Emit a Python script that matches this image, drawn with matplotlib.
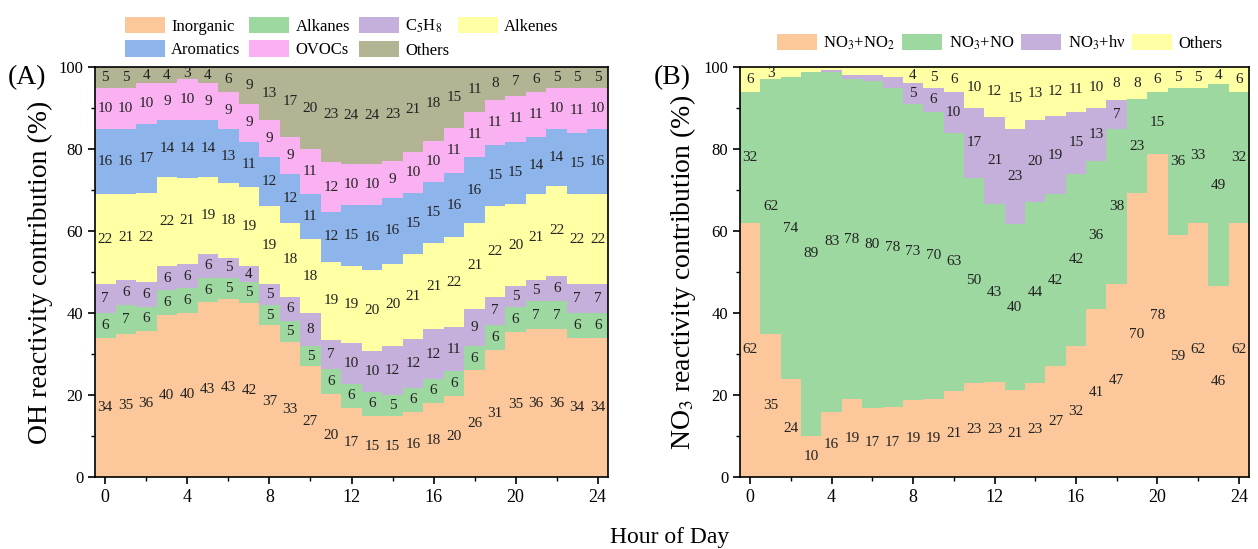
import numpy as np
import matplotlib
matplotlib.use("Agg")
import matplotlib.pyplot as plt
from matplotlib.ticker import MultipleLocator

plt.rcParams['font.family'] = ['Liberation Serif', 'DejaVu Serif']
plt.rcParams['mathtext.fontset'] = 'stix'

hours = list(range(25))

# ---- Panel A: OH reactivity contribution (%) ----
a_labels = ["Inorganic", "Alkanes", "C$_5$H$_8$", "Alkenes", "Aromatics", "OVOCs", "Others"]
inorganic = [34, 35, 36, 40, 40, 43, 43, 42, 37, 33, 27, 20, 17, 15, 15, 16, 18, 20, 26, 31, 35, 36, 36, 34, 34]
alkanes   = [6, 7, 6, 6, 6, 6, 5, 5, 5, 5, 5, 6, 6, 6, 5, 6, 6, 6, 6, 6, 6, 7, 7, 6, 6]
c5h8      = [7, 6, 6, 6, 6, 6, 5, 4, 5, 6, 8, 7, 10, 10, 12, 12, 12, 11, 9, 7, 5, 5, 6, 7, 7]
alkenes   = [22, 21, 22, 22, 21, 19, 18, 19, 19, 18, 18, 19, 19, 20, 20, 21, 21, 22, 21, 22, 20, 21, 22, 22, 22]
aromatics = [16, 16, 17, 14, 14, 14, 13, 11, 12, 12, 11, 12, 15, 16, 16, 15, 15, 16, 16, 15, 15, 14, 14, 15, 16]
ovocs     = [10, 10, 10, 9, 10, 9, 9, 9, 9, 9, 11, 12, 10, 10, 9, 10, 10, 11, 11, 11, 11, 11, 10, 11, 10]
others_a  = [5, 5, 4, 4, 3, 4, 6, 9, 13, 17, 20, 23, 24, 24, 23, 21, 18, 15, 11, 8, 7, 6, 5, 5, 5]
a_colors = ["#FCC89B", "#9DD8A0", "#C4B0DA", "#FFFFA3", "#8DB5EC", "#FAB1F2", "#B3B494"]

# ---- Panel B: NO3 reactivity contribution (%) ----
b_labels = ["NO$_3$+NO$_2$", "NO$_3$+NO", "NO$_3$+h\u03bd", "Others"]
no3_no2  = [62, 35, 24, 10, 16, 19, 17, 17, 19, 19, 21, 23, 23, 21, 23, 27, 32, 41, 47, 70, 78, 59, 62, 46, 62]
no3_no   = [32, 62, 74, 89, 83, 78, 80, 78, 73, 70, 63, 50, 43, 40, 44, 42, 42, 36, 38, 23, 15, 36, 33, 49, 32]
no3_hv   = [0, 0, 0, 0, 0.5, 1, 1.5, 2.5, 5, 6, 10, 17, 21, 23, 20, 19, 15, 13, 7, 0, 0, 0, 0, 0, 0]
others_b = [6, 3, 2.5, 1.2, 0.8, 2, 2, 2.5, 4, 5, 6, 10, 12, 15, 13, 12, 11, 10, 8, 8, 6, 5, 5, 4, 6]
b_colors = ["#FCC89B", "#9DD8A0", "#C4B0DA", "#FFFFA3"]

W, H = 1258, 549
fig = plt.figure(figsize=(W / 100, H / 100), dpi=100)
axA = fig.add_axes([95 / W, (H - 477) / H, 513 / W, 410 / H])
axB = fig.add_axes([740 / W, (H - 477) / H, 509 / W, 410 / H])

edges = np.arange(-0.5, 25.5, 1.0)


def stack(ax, series, colors, labels):
    arr = np.array(series, dtype=float)
    arr = arr / arr.sum(axis=0) * 100.0
    bottom = np.zeros(arr.shape[1])
    handles = []
    for i, (vals, col, lab) in enumerate(zip(arr, colors, labels)):
        top = bottom + vals
        h = ax.fill_between(edges, np.append(bottom, bottom[-1]), np.append(top, top[-1]),
                            step='post', color=col, linewidth=0, label=lab)
        handles.append(h)
        raw = series[i]
        for x, b, v, r in zip(hours, bottom, vals, raw):
            if r >= 3:
                ax.text(x, b + v / 2, f"{int(round(r))}", ha='center', va='center',
                        fontsize=11, color='#222222')
        bottom = top
    return handles


def style(ax, ylabel, tag):
    ax.set_xlim(-0.5, 24.5)
    ax.set_ylim(0, 100)
    ax.xaxis.set_major_locator(MultipleLocator(4))
    ax.xaxis.set_minor_locator(MultipleLocator(2))
    ax.yaxis.set_major_locator(MultipleLocator(20))
    ax.yaxis.set_minor_locator(MultipleLocator(10))
    ax.tick_params(axis='both', which='major', direction='out', length=5, width=1.2,
                   labelsize=13)
    ax.tick_params(axis='both', which='minor', direction='out', length=3, width=1.0)
    ax.tick_params(axis='y', labelsize=12)
    for s in ax.spines.values():
        s.set_linewidth(1.2)
    ax.set_ylabel(ylabel, fontsize=20, labelpad=4)
    ax.text(-0.17, 0.975, tag, transform=ax.transAxes, fontsize=20, va='center', ha='left')


hA = stack(axA, [inorganic, alkanes, c5h8, alkenes, aromatics, ovocs, others_a], a_colors, a_labels)
hB = stack(axB, [no3_no2, no3_no, no3_hv, others_b], b_colors, b_labels)

style(axA, "OH reactivity contribution (%)", "(A)")
style(axB, "NO$_3$ reactivity contribution (%)", "(B)")

order = [0, 4, 1, 5, 2, 6, 3]
fig.legend([hA[i] for i in order], [a_labels[i] for i in order], ncol=4,
           loc='upper left', bbox_to_anchor=(118 / W, 1.0 - 10 / H), frameon=False,
           fontsize=12, handlelength=2.4, handleheight=1.15, columnspacing=0.5,
           handletextpad=0.4, labelspacing=0.35, borderaxespad=0)
fig.legend(hB, b_labels, ncol=4, loc='upper left', bbox_to_anchor=(770 / W, 1.0 - 27 / H),
           frameon=False, fontsize=12, handlelength=2.4, handleheight=1.15,
           columnspacing=0.4, handletextpad=0.4, borderaxespad=0)

fig.text(670 / W, 1.0 - 537 / H, "Hour of Day", ha='center', va='center', fontsize=17)

fig.savefig("out.png", dpi=100)
